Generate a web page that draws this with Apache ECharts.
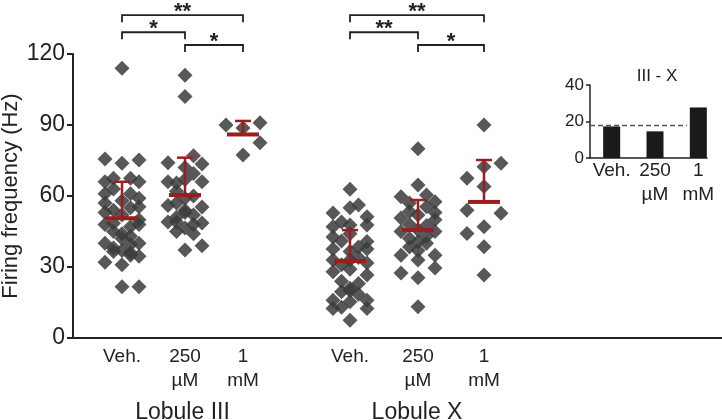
<!DOCTYPE html>
<html>
<head>
<meta charset="utf-8">
<script src="https://cdn.jsdelivr.net/npm/echarts@6/dist/echarts.min.js"></script>
<style>
  html, body { margin: 0; background: #fff; }
  #chart { width: 722px; height: 420px; }
</style>
</head>
<body>
<div id="chart"></div>
<script>
// ---- data ----
const groupLabels = ['Veh.', '250\nµM', '1\nmM'];
const lobuleNames = ['Lobule III', 'Lobule X'];

// each point: [lane (-2..2 jitter column), firing frequency in Hz]
const lob3Veh = [
  [0, 114],
  [-2, 75.6], [0, 73.8], [2, 75.2],
  [-2, 66], [-1, 67.5], [1, 67.5], [2, 66],
  [-2, 61], [-1, 63], [1, 61], [2, 59],
  [-2, 57], [0, 58], [2, 55.5],
  [-1, 54], [1, 55],
  [-2, 53], [0, 52], [2, 50],
  [-2, 48], [-1, 48.5], [1, 47], [2, 48],
  [-1, 45], [0, 44], [1, 43],
  [-2, 40], [0, 42], [1, 39.5], [2, 40], [-1, 38],
  [0, 37], [-1, 36.5], [1, 36],
  [-2, 32], [0, 31], [2, 34.5], [1, 35],
  [0, 21.7], [2, 21.7]
];
const lob3Low = [
  [0, 111], [0, 102],
  [1, 77], [-2, 74], [2, 73.5], [0, 72],
  [1, 69.5], [-2, 66], [-1, 65.5], [2, 66], [0, 67],
  [-1, 62], [1, 60], [0, 59],
  [-2, 56], [2, 55.3], [-1, 57], [0, 54],
  [1, 52], [-1, 51], [0, 53],
  [-2, 49], [2, 48.6], [-1, 49], [1, 48],
  [0, 46.5], [-1, 45], [1, 44],
  [2, 39], [0, 37.2]
];
const lob3High = [[-2, 90], [0, 88.7], [2, 91], [2, 82.5], [0, 77.3]];
const lobXVeh = [
  [0, 62.8],
  [-2, 52.8], [0, 55], [1, 56.2], [2, 51.2],
  [-2, 47], [0, 47.7], [2, 47.7], [-1, 49],
  [-2, 42.7], [-1, 41], [0, 44], [2, 40.8],
  [-2, 37.6], [0, 36.5], [1, 38.5], [2, 37.6],
  [-2, 33], [-1, 31], [0, 33], [2, 31.7], [1, 34],
  [-2, 28], [0, 29], [2, 26.6],
  [-1, 24], [1, 23], [0, 21],
  [-1, 19.5], [0, 20], [1, 18.5],
  [-2, 16], [2, 16], [0, 15.3],
  [-2, 12.5], [2, 12.5], [-1, 13],
  [0, 7.5]
];
const lobXLow = [
  [0, 80], [0, 64.6],
  [-2, 59.7], [1, 60.4], [2, 57.6], [-1, 57], [1, 55.5],
  [-2, 50.7], [0, 52], [2, 50], [-1, 48], [-1, 53.5], [2, 53],
  [-2, 45], [0, 45.6], [2, 45], [1, 47.5], [1, 43],
  [0, 40.7], [1, 40], [-1, 42], [-1, 38.5],
  [-2, 35], [2, 35], [0, 37],
  [0, 33], [2, 29.6],
  [-2, 27.5], [0, 25.5],
  [0, 13.2]
];
const lobXHigh = [
  [0, 90], [2, 73.8], [0, 72.4], [-2, 67.5], [0, 64], [-2, 54],
  [2, 52.7], [0, 47], [-2, 44.2], [0, 38.6], [0, 26.6]
];
const groupPoints = [lob3Veh, lob3Low, lob3High, lobXVeh, lobXLow, lobXHigh];

// mean and SD drawn as red bars
const meanHz = [50.6, 60.4, 86.0, 32.5, 45.6, 57.5];
const sdHz = [15.4, 15.8, 5.7, 13.1, 12.7, 17.7];

// significance brackets: [from group, to group, height in Hz, stars]
const brackets = [
  [0, 2, 136.4, 2], [0, 1, 129.2, 1], [1, 2, 123.8, 1],
  [3, 5, 136.4, 2], [3, 4, 129.2, 2], [4, 5, 123.8, 1]
];

// inset: III - X difference
const insetLabels = ['Veh.', '250\nµM', '1\nmM'];
const insetDiff = [17.3, 14.6, 27.7];
const insetRef = 18.1;

// ---- layout ----
const slotX = [49, 112, 170, 277, 345, 411];   // group centres along the hidden x scale
const lobuleX = [109.5, 344];
const laneStep = 8.5;
const RED = '#9b1d1d';
const INK = '#222';
const FONT = '"Liberation Sans", Arial, sans-serif';

const chart = echarts.init(document.getElementById('chart'));

const scatterSeries = groupPoints.map((pts, g) => ({
  type: 'scatter',
  xAxisIndex: 0,
  yAxisIndex: 0,
  symbol: 'diamond',
  symbolSize: 15,
  itemStyle: { color: '#3b3b3b', opacity: 0.85 },
  data: pts.map(p => [slotX[g] + p[0] * laneStep, p[1]]),
  silent: true,
  z: 2
}));

function renderErrorBar(params, api) {
  const x = api.value(0), m = api.value(1), sd = api.value(2);
  const pm = api.coord([x, m]);
  const pt = api.coord([x, m + sd]);
  return {
    type: 'group',
    children: [
      { type: 'line', shape: { x1: pm[0], y1: pm[1], x2: pt[0], y2: pt[1] }, style: { stroke: RED, lineWidth: 2.5 } },
      { type: 'line', shape: { x1: pt[0] - 8, y1: pt[1], x2: pt[0] + 8, y2: pt[1] }, style: { stroke: RED, lineWidth: 2.5 } },
      { type: 'line', shape: { x1: pm[0] - 16, y1: pm[1], x2: pm[0] + 16, y2: pm[1] }, style: { stroke: RED, lineWidth: 4 } }
    ]
  };
}

function renderBracket(params, api) {
  const a = api.coord([api.value(0), api.value(2)]);
  const b = api.coord([api.value(1), api.value(2)]);
  const stars = '*'.repeat(api.value(3));
  return {
    type: 'group',
    children: [
      {
        type: 'polyline',
        shape: { points: [[a[0], a[1] + 7], [a[0], a[1]], [b[0], b[1]], [b[0], b[1] + 7]] },
        style: { stroke: INK, lineWidth: 1.8, fill: null }
      },
      {
        type: 'text',
        style: {
          text: stars, x: (a[0] + b[0]) / 2, y: a[1] - 3,
          align: 'center', verticalAlign: 'middle',
          font: 'bold 22px ' + FONT, fill: INK
        }
      }
    ]
  };
}

const option = {
  animation: false,
  backgroundColor: '#fff',
  textStyle: { fontFamily: FONT, color: INK },
  title: {
    text: 'III - X', left: 652, top: 63, textAlign: 'center',
    textStyle: { fontSize: 17, fontWeight: 'normal', color: INK, fontFamily: FONT }
  },
  grid: [
    { left: 73, top: 54, width: 649, height: 284, outerBoundsMode: 'none', containLabel: false },
    { left: 590, top: 85, width: 117, height: 73, outerBoundsMode: 'none', containLabel: false }
  ],
  xAxis: [
    {
      type: 'value', gridIndex: 0, min: 0, max: 649,
      splitLine: { show: false },
      axisTick: { show: false },
      axisLine: { onZero: false, lineStyle: { color: INK, width: 2 } },
      axisLabel: {
        customValues: slotX,
        formatter: v => groupLabels[slotX.indexOf(v) % 3],
        fontSize: 19, lineHeight: 24, margin: 7, color: INK
      }
    },
    {
      type: 'value', gridIndex: 0, min: 0, max: 649, position: 'bottom',
      splitLine: { show: false },
      axisTick: { show: false },
      axisLine: { show: false, onZero: false },
      axisLabel: {
        customValues: lobuleX,
        formatter: v => lobuleNames[lobuleX.indexOf(v)],
        fontSize: 23, margin: 63, color: INK
      }
    },
    {
      type: 'value', gridIndex: 1, min: -0.5, max: 2.2,
      splitLine: { show: false },
      axisTick: { show: false },
      axisLine: { onZero: false, lineStyle: { color: INK, width: 1.5 } },
      axisLabel: {
        customValues: [0, 1, 2],
        formatter: v => insetLabels[v],
        fontSize: 19, lineHeight: 24, margin: 1, color: INK
      }
    }
  ],
  yAxis: [
    {
      type: 'value', gridIndex: 0, min: 0, max: 120, interval: 30,
      name: 'Firing frequency (Hz)', nameLocation: 'middle', nameGap: 51,
      nameMoveOverlap: false,
      nameTextStyle: { fontSize: 22, color: INK },
      splitLine: { show: false },
      axisLine: { show: true, onZero: false, lineStyle: { color: INK, width: 2 } },
      axisTick: { show: true, length: 6, lineStyle: { width: 2 } },
      axisLabel: { fontSize: 23, margin: 8, color: INK }
    },
    {
      type: 'value', gridIndex: 1, min: 0, max: 40, interval: 20,
      splitLine: { show: false },
      axisLine: { show: true, onZero: false, lineStyle: { color: INK, width: 1.5 } },
      axisTick: { show: true, length: 4, lineStyle: { width: 1.5 } },
      axisLabel: { fontSize: 17, margin: 6, color: INK }
    }
  ],
  series: [
    ...scatterSeries,
    {
      type: 'custom',
      xAxisIndex: 0, yAxisIndex: 0,
      renderItem: renderErrorBar,
      data: meanHz.map((m, i) => [slotX[i], m, sdHz[i]]),
      silent: true,
      z: 5
    },
    {
      type: 'custom',
      xAxisIndex: 0, yAxisIndex: 0,
      clip: false,
      renderItem: renderBracket,
      data: brackets.map(b => [slotX[b[0]], slotX[b[1]], b[2], b[3]]),
      silent: true,
      z: 5
    },
    {
      type: 'bar',
      xAxisIndex: 2, yAxisIndex: 1,
      barWidth: 17,
      itemStyle: { color: '#1a1a1a' },
      data: insetDiff.map((v, i) => [i, v]),
      silent: true,
      markLine: {
        silent: true,
        symbol: ['none', 'none'],
        label: { show: false },
        lineStyle: { type: [5, 3], color: '#555', width: 1.3 },
        data: [[{ coord: [-0.5, insetRef] }, { coord: [1.74, insetRef] }]]
      }
    }
  ]
};

chart.setOption(option);
</script>
</body>
</html>
